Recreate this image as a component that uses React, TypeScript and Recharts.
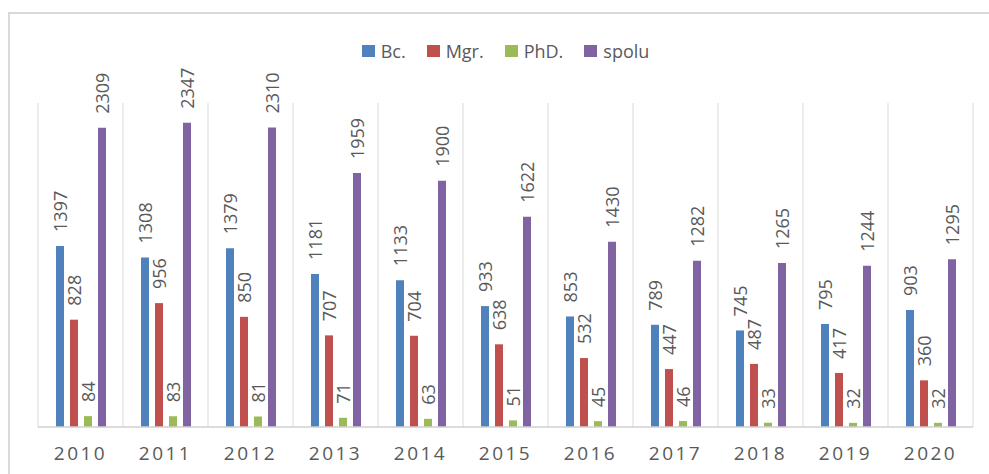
import React from 'react';
import { BarChart, Bar, XAxis, YAxis, CartesianGrid, LabelList } from 'recharts';

const roky = ['2010', '2011', '2012', '2013', '2014', '2015', '2016', '2017', '2018', '2019', '2020'];
const bc = [1397, 1308, 1379, 1181, 1133, 933, 853, 789, 745, 795, 903];
const mgr = [828, 956, 850, 707, 704, 638, 532, 447, 487, 417, 360];
const phd = [84, 83, 81, 71, 63, 51, 45, 46, 33, 32, 32];
const spolu = [2309, 2347, 2310, 1959, 1900, 1622, 1430, 1282, 1265, 1244, 1295];

const serie = [
  { key: 'bc', nazov: 'Bc.', farba: '#4F81BD' },
  { key: 'mgr', nazov: 'Mgr.', farba: '#C0504D' },
  { key: 'phd', nazov: 'PhD.', farba: '#9BBB59' },
  { key: 'spolu', nazov: 'spolu', farba: '#8064A2' },
];

const FONT = '"Open Sans", sans-serif';
const SIVA = '#595959';

const data = roky.map((rok, i) => ({
  rok,
  bc: bc[i],
  mgr: mgr[i],
  phd: phd[i],
  spolu: spolu[i],
}));

// popisky nad stĺpcami, otočené o -90°
const Popisok = (props: any) => {
  const { x, y, width, value } = props;
  const cx = x + width / 2;
  const cy = y - 14;
  return (
    <text
      x={cx}
      y={cy}
      transform={`rotate(-90 ${cx} ${cy})`}
      textAnchor="start"
      dominantBaseline="central"
      fill={SIVA}
      fontSize={18}
      fontFamily={FONT}
    >
      {value}
    </text>
  );
};

export default function App() {
  return (
    <div
      style={{
        position: 'fixed',
        left: 0,
        top: 0,
        width: 989,
        height: 474,
        overflow: 'hidden',
        background: '#fff',
      }}
    >
      <div
        style={{
          position: 'absolute',
          left: 8,
          top: 12,
          width: 1000,
          height: 500,
          borderTop: '2px solid #d9d9d9',
          borderLeft: '2px solid #d9d9d9',
        }}
      />
      <div
        style={{
          position: 'absolute',
          left: 38,
          top: 40,
          width: 935,
          height: 22,
          display: 'flex',
          justifyContent: 'center',
          alignItems: 'center',
          gap: 21,
          fontFamily: FONT,
          fontSize: 18,
          color: SIVA,
        }}
      >
        {serie.map((s) => (
          <div key={s.key} style={{ display: 'flex', alignItems: 'center' }}>
            <span style={{ width: 13, height: 12, background: s.farba, marginRight: 6 }} />
            <span>{s.nazov}</span>
          </div>
        ))}
      </div>
      <BarChart
        width={989}
        height={474}
        data={data}
        margin={{ top: 103, right: 16, left: 38, bottom: 17 }}
        barSize={8}
        barGap={6}
        style={{ position: 'absolute', left: 0, top: 0 }}
      >
        <CartesianGrid
          horizontal={false}
          stroke="#d9d9d9"
          verticalCoordinatesGenerator={({ offset }: any) =>
            roky.map((_, i) => offset.left + (i * offset.width) / roky.length).concat(offset.left + offset.width)
          }
        />
        <XAxis
          dataKey="rok"
          height={30}
          tickLine={false}
          tickMargin={14}
          axisLine={{ stroke: '#d0d0d0', strokeWidth: 1.5 }}
          tick={{ fill: SIVA, fontSize: 19, fontFamily: FONT, letterSpacing: 2.5 }}
        />
        <YAxis hide domain={[0, 2500]} />
        {serie.map((s) => (
          <Bar key={s.key} dataKey={s.key} name={s.nazov} fill={s.farba} isAnimationActive={false}>
            <LabelList dataKey={s.key} content={Popisok} />
          </Bar>
        ))}
      </BarChart>
    </div>
  );
}
